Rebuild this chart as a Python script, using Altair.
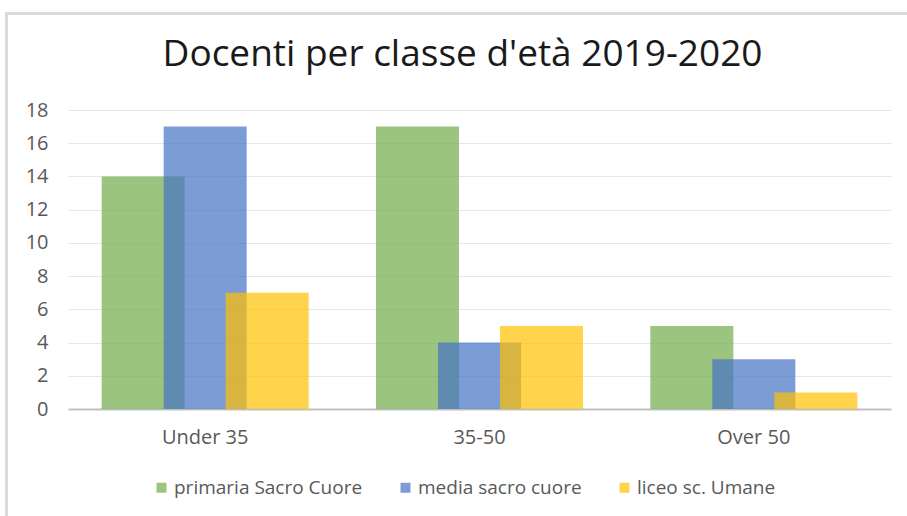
import altair as alt
import pandas as pd

categories = ["Under 35", "35-50", "Over 50"]
series = ["primaria Sacro Cuore", "media sacro cuore", "liceo sc. Umane"]
primaria = [14, 17, 5]
media = [17, 4, 3]
liceo = [7, 5, 1]
colors = ["#70AD47", "#4472C4", "#FFC000"]
y_ticks = list(range(0, 19, 2))

rows = []
for s, vals in zip(series, [primaria, media, liceo]):
    for c, v in zip(categories, vals):
        rows.append({"classe": c, "serie": s, "valore": v})
df = pd.DataFrame(rows)

FONT = "Open Sans"
GRAY = "#595959"

bars = alt.Chart(df).mark_bar(width=83, opacity=0.7).encode(
    x=alt.X("classe:N", sort=categories, title=None,
            scale=alt.Scale(paddingInner=0, paddingOuter=0),
            axis=alt.Axis(labelAngle=0, ticks=False, domain=True, domainColor="#BFBFBF",
                          domainWidth=2, labelFontSize=20, labelColor=GRAY, labelFont=FONT,
                          labelPadding=18, grid=False)),
    xOffset=alt.XOffset("serie:N", sort=series,
                        scale=alt.Scale(paddingInner=0, paddingOuter=0.712)),
    y=alt.Y("valore:Q", title=None,
            scale=alt.Scale(domain=[0, 18], nice=False),
            axis=alt.Axis(values=y_ticks, domain=False, ticks=False, labelFontSize=20,
                          labelColor=GRAY, labelFont=FONT, labelPadding=20,
                          gridColor="#E6E6E6", gridWidth=1)),
    color=alt.Color("serie:N", sort=series, title=None,
                    scale=alt.Scale(domain=series, range=colors),
                    legend=alt.Legend(orient="none", legendX=84, legendY=368,
                                      direction="horizontal", symbolType="square",
                                      symbolSize=100, symbolOpacity=0.7, symbolStrokeWidth=0,
                                      labelFontSize=19, labelColor=GRAY, labelFont=FONT,
                                      labelLimit=400, labelOffset=3, columnPadding=33,
                                      padding=0)),
    order=alt.Order("order_idx:Q"),
).transform_calculate(
    order_idx="indexof(['primaria Sacro Cuore','media sacro cuore','liceo sc. Umane'], datum.serie)"
)

frame_top = alt.Chart(df).mark_rule(color="#D9D9D9", strokeWidth=2).encode(
    x=alt.value(-62), x2=alt.value(850), y=alt.value(-96.5)
)
frame_left = alt.Chart(df).mark_rule(color="#D9D9D9", strokeWidth=2).encode(
    x=alt.value(-61.5), y=alt.value(-97.5), y2=alt.value(420)
)

chart = alt.layer(frame_top, frame_left, bars).properties(
    width=823, height=299,
    autosize=alt.AutoSizeParams(type="none"),
    padding={"left": 68, "top": 110, "right": 16, "bottom": 107},
    title=alt.TitleParams("Docenti per classe d'età 2019-2020", font=FONT, fontSize=37,
                          fontWeight="normal", color="#1A1A1A", anchor="middle",
                          dx=-17, baseline="alphabetic", offset=-91),
).configure_view(stroke=None)

chart.save("out.html", embed_options={"renderer": "svg", "actions": False})
